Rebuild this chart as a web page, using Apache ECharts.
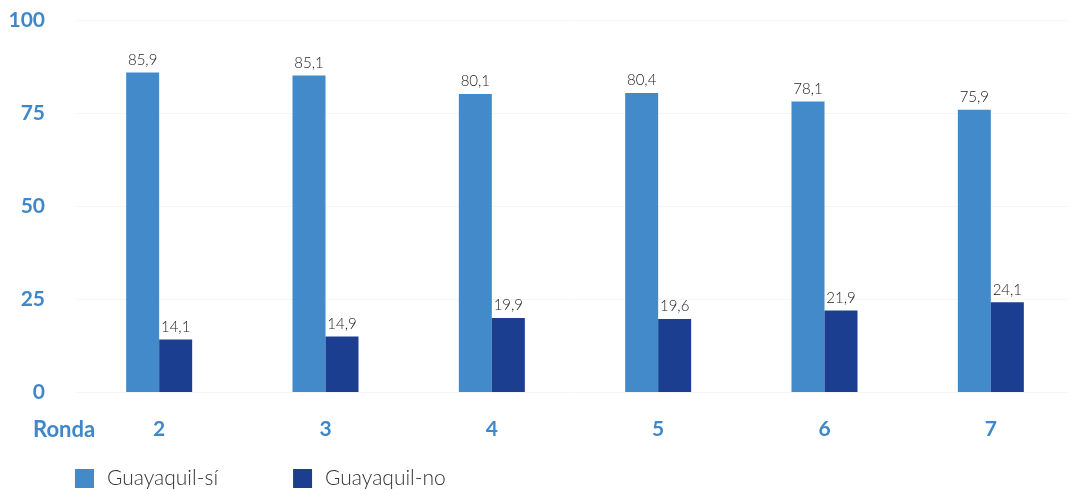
<!DOCTYPE html>
<html>
<head>
<meta charset="utf-8">
<script src="https://cdn.jsdelivr.net/npm/echarts@6/dist/echarts.min.js"></script>
<style>
  html, body { margin: 0; padding: 0; background: #fff; }
  #chart { width: 1068px; height: 490px; }
</style>
</head>
<body>
<div id="chart"></div>
<script>
// Rounds surveyed and share of answers per round
const rondas = ['2', '3', '4', '5', '6', '7'];
const guayaquilSi = [85.9, 85.1, 80.1, 80.4, 78.1, 75.9];
const guayaquilNo = [14.1, 14.9, 19.9, 19.6, 21.9, 24.1];
const yTicks = [0, 25, 50, 75, 100];

const BLUE_LIGHT = '#428aca';
const BLUE_DARK = '#1c3e91';
const AXIS_BLUE = '#3f87c9';
const FONT = 'Lato, "Open Sans", sans-serif';

const fmt = v => v.toFixed(1).replace('.', ',');

const chart = echarts.init(document.getElementById('chart'));
chart.setOption({
  animation: false,
  grid: { left: 76, top: 20, width: 998, height: 372, containLabel: false, outerBoundsMode: 'none' },
  xAxis: {
    type: 'category',
    data: rondas,
    axisLine: { show: false },
    axisTick: { show: false },
    axisLabel: { margin: 27, color: AXIS_BLUE, fontFamily: FONT, fontWeight: 'bold', fontSize: 21 }
  },
  yAxis: {
    type: 'value',
    min: yTicks[0],
    max: yTicks[yTicks.length - 1],
    interval: 25,
    axisLine: { show: false },
    axisTick: { show: false },
    splitLine: { lineStyle: { color: '#f6f6f6', width: 1 } },
    axisLabel: { margin: 31, color: AXIS_BLUE, fontFamily: FONT, fontWeight: 'bold', fontSize: 21 }
  },
  legend: {
    left: 75,
    top: 468,
    padding: 0,
    itemWidth: 19,
    itemHeight: 19,
    itemGap: 75,
    icon: 'rect',
    textStyle: { color: '#333', fontFamily: FONT, fontWeight: 300, fontSize: 21, padding: [0, 0, 0, 8] },
    data: ['Guayaquil-sí', 'Guayaquil-no']
  },
  graphic: [{
    type: 'text',
    left: 33,
    top: 419,
    style: { text: 'Ronda', fill: AXIS_BLUE, font: 'bold 22px ' + FONT, letterSpacing: 1 }
  }],
  series: [
    {
      name: 'Guayaquil-sí',
      type: 'bar',
      data: guayaquilSi,
      barWidth: 33,
      barGap: '0%',
      itemStyle: { color: BLUE_LIGHT },
      label: { show: true, position: 'top', distance: 5, color: '#222', fontFamily: FONT, fontWeight: 300, fontSize: 15, formatter: p => fmt(p.value) }
    },
    {
      name: 'Guayaquil-no',
      type: 'bar',
      data: guayaquilNo,
      barWidth: 33,
      barGap: '0%',
      itemStyle: { color: BLUE_DARK },
      label: { show: true, position: 'top', distance: 5, color: '#222', fontFamily: FONT, fontWeight: 300, fontSize: 15, formatter: p => fmt(p.value) }
    }
  ]
});
</script>
</body>
</html>
